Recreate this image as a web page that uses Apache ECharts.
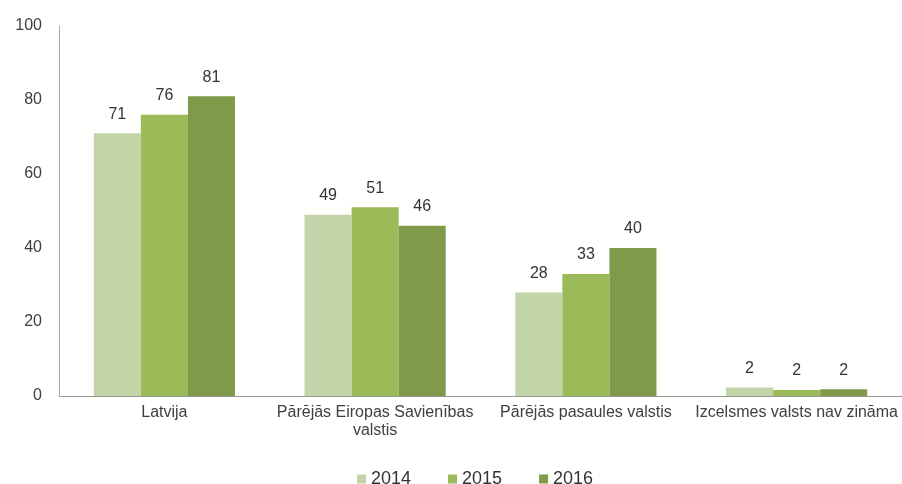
<!DOCTYPE html>
<html><head><meta charset="utf-8">
<script src="https://cdn.jsdelivr.net/npm/echarts@6/dist/echarts.min.js"></script>
<style>html,body{margin:0;padding:0;background:#fff;}#c{width:902px;height:484px;}</style>
</head><body><div id="c"></div>
<script>
var categories = ['Latvija', 'Pārējās Eiropas Savienības\nvalstis', 'Pārējās pasaules valstis', 'Izcelsmes valsts nav zināma'];
var years = ['2014', '2015', '2016'];
var v2014 = [71, 49, 28, 2.3];
var v2015 = [76, 51, 33, 1.6];
var v2016 = [81, 46, 40, 1.8];
var yTicks = [0, 20, 40, 60, 80, 100];
var colors = ['#c3d4a8', '#9bbb59', '#7f9b49'];
var chart = echarts.init(document.getElementById('c'));
var font = 'Liberation Sans, Arial, sans-serif';
function mk(name, data, i) {
  return {
    name: name, type: 'bar', data: data, barGap: '0%', barCategoryGap: '33%',
    itemStyle: { color: colors[i] },
    label: { show: true, position: 'top', distance: 11, color: '#333', fontSize: 16, fontFamily: font,
      formatter: function (p) { return Math.round(p.value); } }
  };
}
chart.setOption({
  backgroundColor: '#fffffd',
  animation: false,
  grid: { left: 59, right: 0, top: 26, bottom: 88 },
  legend: {
    top: 465, left: 352, itemWidth: 9, itemHeight: 9, itemGap: 37, icon: 'rect',
    textStyle: { color: '#333', fontSize: 18, fontFamily: font },
    data: years
  },
  xAxis: {
    type: 'category', data: categories,
    axisLine: { lineStyle: { color: '#999' } },
    axisTick: { show: false },
    axisLabel: { color: '#404040', fontSize: 16, fontFamily: font, margin: 8, lineHeight: 18, interval: 0 }
  },
  yAxis: {
    type: 'value', min: 0, max: 100, interval: 20,
    axisLine: { show: true, lineStyle: { color: '#aaa' } },
    axisTick: { show: false },
    splitLine: { show: false },
    axisLabel: { color: '#404040', fontSize: 16, fontFamily: font, margin: 17,
      formatter: function (v) { return yTicks.indexOf(v) >= 0 ? String(v) : ''; } }
  },
  series: [mk(years[0], v2014, 0), mk(years[1], v2015, 1), mk(years[2], v2016, 2)]
});
</script></body></html>
